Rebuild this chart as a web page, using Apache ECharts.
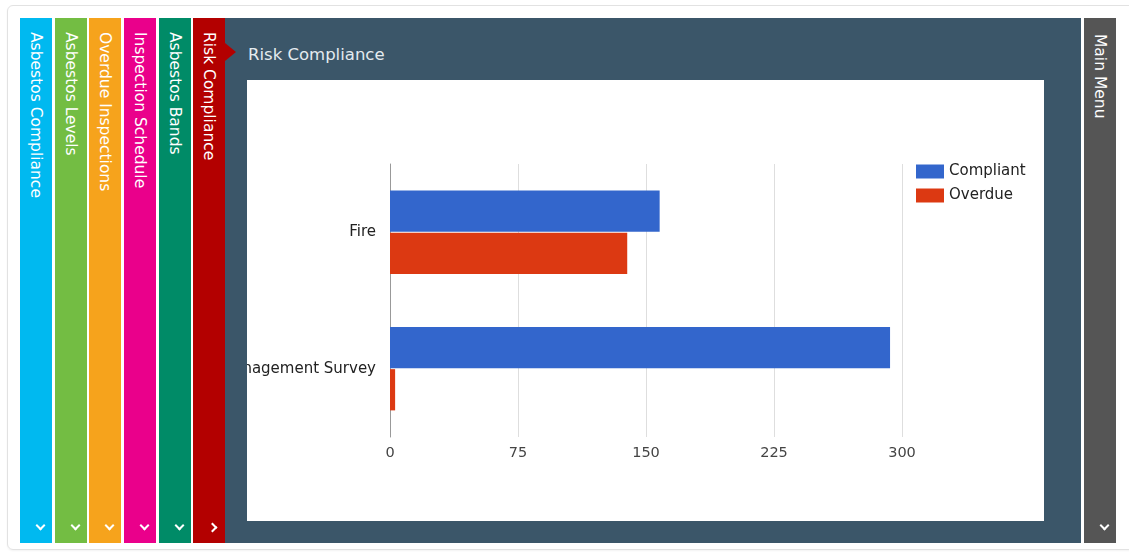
<!DOCTYPE html>
<html>
<head>
<meta charset="utf-8">
<script src="https://cdn.jsdelivr.net/npm/echarts@6/dist/echarts.min.js"></script>
<style>
  html, body { margin: 0; padding: 0; background: #fff; width: 1129px; height: 553px; overflow: hidden; font-family: 'DejaVu Sans', sans-serif; }
  .card { position: absolute; left: 7px; top: 5px; width: 1140px; height: 545px; border: 1px solid #e2e2e2; border-radius: 6px; box-sizing: border-box; box-shadow: 0 1px 2px rgba(0,0,0,0.05); }
  .tab { position: absolute; top: 18px; height: 525px; width: 32px; color: #fff; }
  .tab .lbl { position: absolute; left: 0; top: 14px; width: 32px; writing-mode: vertical-rl; line-height: 32px; font-size: 15.5px; white-space: nowrap; }
  .chev { position: absolute; width: 5px; height: 5px; border-right: 2px solid #fff; border-bottom: 2px solid #fff; transform: rotate(45deg); }
  .panel { position: absolute; left: 225px; top: 18px; width: 856px; height: 525px; background: #3b5669; }
  .title { position: absolute; left: 248px; top: 45px; font-size: 16.5px; line-height: 20px; color: #e4ebef; }
  .arrow { position: absolute; left: 225px; top: 43px; width: 0; height: 0; border-left: 11px solid #b30000; border-top: 9px solid transparent; border-bottom: 9px solid transparent; }
  #chart { position: absolute; left: 247px; top: 80px; width: 797px; height: 441px; background: #fff; }
</style>
</head>
<body>
<div class="card"></div>
<div id="tabs"></div>
<div class="panel"></div>
<div class="arrow"></div>
<div class="title" id="title"></div>
<div id="chart"></div>
<script>
// ---- data ----
const tabLabels = ['Asbestos Compliance', 'Asbestos Levels', 'Overdue Inspections', 'Inspection Schedule', 'Asbestos Bands', 'Risk Compliance'];
const tabColors = ['#00b9f0', '#73bd43', '#f6a31c', '#ea008b', '#008b67', '#b30000'];
const tabLefts = [20, 55, 89, 124, 159, 193];
const menuLabel = 'Main Menu';
const chartTitle = 'Risk Compliance';
const categories = ['Fire', 'Asbestos Management Survey'];
const seriesNames = ['Compliant', 'Overdue'];
const compliant = [158, 293];
const overdue = [139, 3];
const xTicks = [0, 75, 150, 225, 300];

// ---- page chrome ----
const tabsEl = document.getElementById('tabs');
tabLabels.forEach((t, i) => {
  const d = document.createElement('div');
  d.className = 'tab';
  d.style.left = tabLefts[i] + 'px';
  d.style.background = tabColors[i];
  const l = document.createElement('div');
  l.className = 'lbl';
  l.textContent = t;
  d.appendChild(l);
  const c = document.createElement('div');
  c.className = 'chev';
  if (i === 5) {
    c.style.transform = 'rotate(-45deg)';
    c.style.left = '16px';
    c.style.top = '506px';
  } else {
    c.style.left = '17px';
    c.style.top = '504px';
  }
  d.appendChild(c);
  tabsEl.appendChild(d);
});
const menu = document.createElement('div');
menu.className = 'tab';
menu.style.left = '1084px';
menu.style.background = '#555555';
menu.innerHTML = '<div class="lbl" style="top:16px">' + menuLabel + '</div><div class="chev" style="left:17px;top:504px"></div>';
tabsEl.appendChild(menu);
document.getElementById('title').textContent = chartTitle;

// ---- chart ----
const chart = echarts.init(document.getElementById('chart'), null, { renderer: 'canvas' });
const font = 'DejaVu Sans';
chart.setOption({
  animation: false,
  backgroundColor: '#fff',
  textStyle: { fontFamily: font },
  legend: {
    orient: 'vertical',
    left: 664,
    top: 79,
    icon: 'rect',
    itemWidth: 28,
    itemHeight: 14,
    itemGap: 9,
    textStyle: { fontFamily: font, fontSize: 15, color: '#222' },
    data: seriesNames
  },
  grid: { left: 143, right: 142, top: 84, bottom: 84, containLabel: false, outerBoundsMode: 'none' },
  xAxis: {
    type: 'value',
    min: xTicks[0],
    max: xTicks[xTicks.length - 1],
    interval: xTicks[1] - xTicks[0],
    axisLine: { show: false },
    axisTick: { show: false },
    splitLine: { lineStyle: { color: '#dedede', width: 1 } },
    axisLabel: { fontFamily: font, fontSize: 14.5, color: '#444', margin: 9 }
  },
  yAxis: {
    type: 'category',
    inverse: true,
    data: categories,
    axisLine: { show: true, lineStyle: { color: '#999', width: 1 } },
    axisTick: { show: false },
    axisLabel: { fontFamily: font, fontSize: 15, color: '#222', margin: 14 }
  },
  series: [
    { name: seriesNames[0], type: 'bar', data: compliant, itemStyle: { color: '#3366cc' }, barGap: '2%', barCategoryGap: '39%' },
    { name: seriesNames[1], type: 'bar', data: overdue, itemStyle: { color: '#dc3912' }, barGap: '2%', barCategoryGap: '39%' }
  ]
});
</script>
</body>
</html>
